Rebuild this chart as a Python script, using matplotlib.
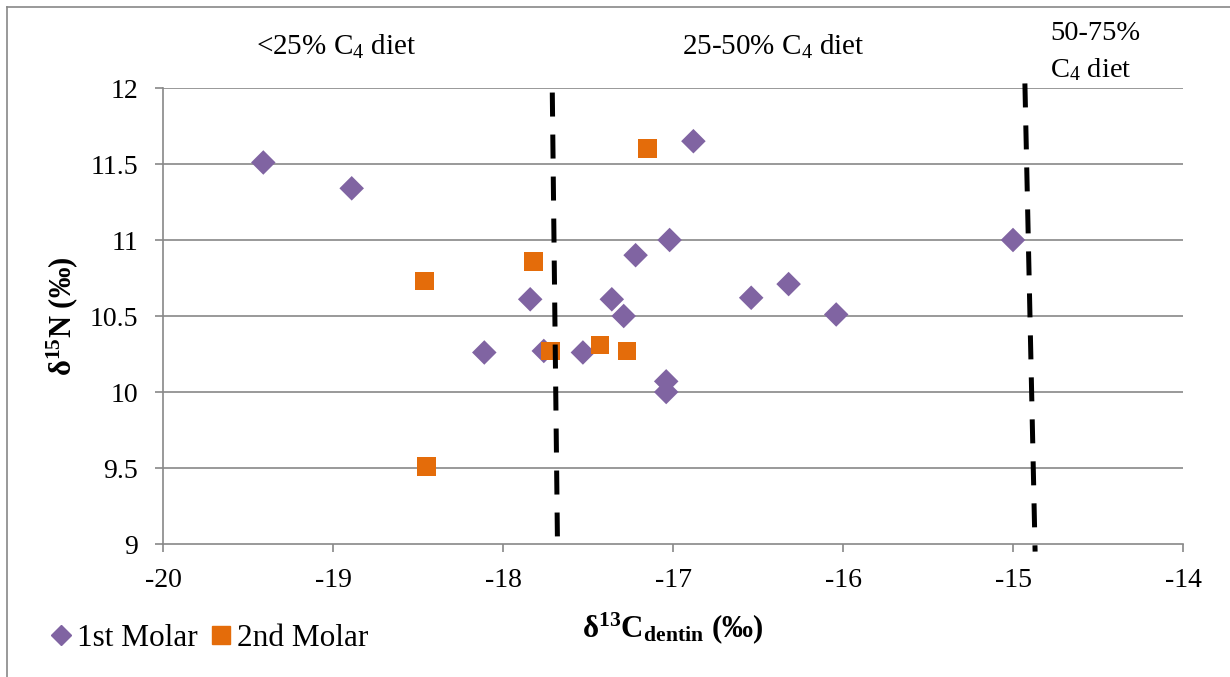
import matplotlib
matplotlib.use("Agg")
import matplotlib.pyplot as plt
from matplotlib.lines import Line2D

plt.rcParams["font.family"] = ["Liberation Serif", "DejaVu Serif"]
plt.rcParams["mathtext.fontset"] = "custom"
plt.rcParams["mathtext.rm"] = "Liberation Serif"
plt.rcParams["mathtext.it"] = "Liberation Serif:italic"
plt.rcParams["mathtext.bf"] = "Liberation Serif:bold"

# 1st molar dentin samples: d13C vs d15N
m1_c13 = [-19.41, -18.89, -17.84, -18.11, -17.76, -17.53, -17.36, -17.29, -17.22,
          -17.02, -16.88, -17.04, -17.04, -16.54, -16.32, -16.04, -15.00]
m1_n15 = [11.51, 11.34, 10.61, 10.26, 10.27, 10.26, 10.61, 10.50, 10.90,
          11.00, 11.65, 10.07, 10.00, 10.62, 10.71, 10.51, 11.00]

# 2nd molar dentin samples
m2_c13 = [-18.46, -18.45, -17.82, -17.72, -17.43, -17.27, -17.15]
m2_n15 = [10.73, 9.51, 10.86, 10.27, 10.31, 10.27, 11.60]

# C4 diet boundaries (x at top and bottom of each boundary line)
boundary_top_x = [-17.71, -14.93]
boundary_bottom_x = [-17.68, -14.87]
boundary_top_y = [11.97, 12.03]
boundary_bottom_y = [9.05, 8.95]

x_ticks = [-20, -19, -18, -17, -16, -15, -14]
y_ticks = [9, 9.5, 10, 10.5, 11, 11.5, 12]
x_tick_labels = ["-20", "-19", "-18", "-17", "-16", "-15", "-14"]
y_tick_labels = ["9", "9.5", "10", "10.5", "11", "11.5", "12"]

purple = "#8064A2"
orange = "#E46C0A"
grid_grey = "#888888"

W, H = 1230, 677
fig = plt.figure(figsize=(W / 100, H / 100), dpi=100)
ax = fig.add_axes([163 / W, 1 - 544 / H, 1020 / W, 456 / H])

ax.set_xlim(-20, -14)
ax.set_ylim(9, 12)

# horizontal gridlines
for yv in y_ticks[1:]:
    ax.axhline(yv, color=grid_grey, lw=1.2, zorder=1)

ax.scatter(m1_c13, m1_n15, marker="D", s=12.5 ** 2, color=purple,
           edgecolors="none", zorder=3, label="1st Molar")
ax.scatter(m2_c13, m2_n15, marker="s", s=13.5 ** 2, color=orange,
           edgecolors="none", zorder=4, label="2nd Molar")

for xt, xb, yt, yb in zip(boundary_top_x, boundary_bottom_x,
                          boundary_top_y, boundary_bottom_y):
    ax.plot([xt, xb], [yt, yb], color="black", lw=3.6,
            linestyle=(0, (4.8, 3.6)), solid_capstyle="butt",
            dash_capstyle="butt", zorder=5, clip_on=False)

for side in ("top", "right"):
    ax.spines[side].set_visible(False)
for side in ("left", "bottom"):
    ax.spines[side].set_color(grid_grey)
    ax.spines[side].set_linewidth(1.2)

ax.set_xticks(x_ticks)
ax.set_xticklabels(x_tick_labels)
ax.set_yticks(y_ticks)
ax.set_yticklabels(y_tick_labels)
ax.tick_params(axis="both", direction="out", length=6, width=1.2,
               color=grid_grey, labelsize=20, labelcolor="black")
ax.tick_params(axis="x", pad=11)
ax.tick_params(axis="y", pad=12)

ax.set_xlabel(r"δ$^{\mathbf{13}}$C$_{\mathbf{dentin}}$ (‰)", fontsize=22.3,
              fontweight="bold", labelpad=13)
ax.set_ylabel(r"δ$^{\mathbf{15}}$N (‰)", fontsize=22, fontweight="bold",
              labelpad=7)

# diet zone annotations
fig.text(336 / W, 1 - 47 / H, r"<25% C$_4$ diet", fontsize=21,
         ha="center", va="center")
fig.text(773 / W, 1 - 47 / H, r"25-50% C$_4$ diet", fontsize=21,
         ha="center", va="center")
fig.text(1050 / W, 1 - 34 / H, "50-75%", fontsize=20.5, ha="left", va="center")
fig.text(1050 / W, 1 - 70 / H, r"C$_4$ diet", fontsize=20.5, ha="left",
         va="center")

# chart frame
fig.add_artist(Line2D([7 / W, 7 / W], [0, 1 - 7 / H], color=grid_grey,
                      lw=1.2, transform=fig.transFigure))
fig.add_artist(Line2D([7 / W, 1], [1 - 7 / H, 1 - 7 / H], color=grid_grey,
                      lw=1.2, transform=fig.transFigure))

handles = [
    Line2D([], [], marker="D", color=purple, linestyle="none", markersize=10),
    Line2D([], [], marker="s", color=orange, linestyle="none", markersize=13),
]
fig.legend(handles, ["1st Molar", "2nd Molar"], loc="center left",
           bbox_to_anchor=(33 / W, 1 - 638 / H), ncol=2, frameon=False,
           fontsize=22.5, handlelength=0.8, handletextpad=0.1,
           columnspacing=0.35, borderpad=0)

fig.savefig("out.png", dpi=100)
